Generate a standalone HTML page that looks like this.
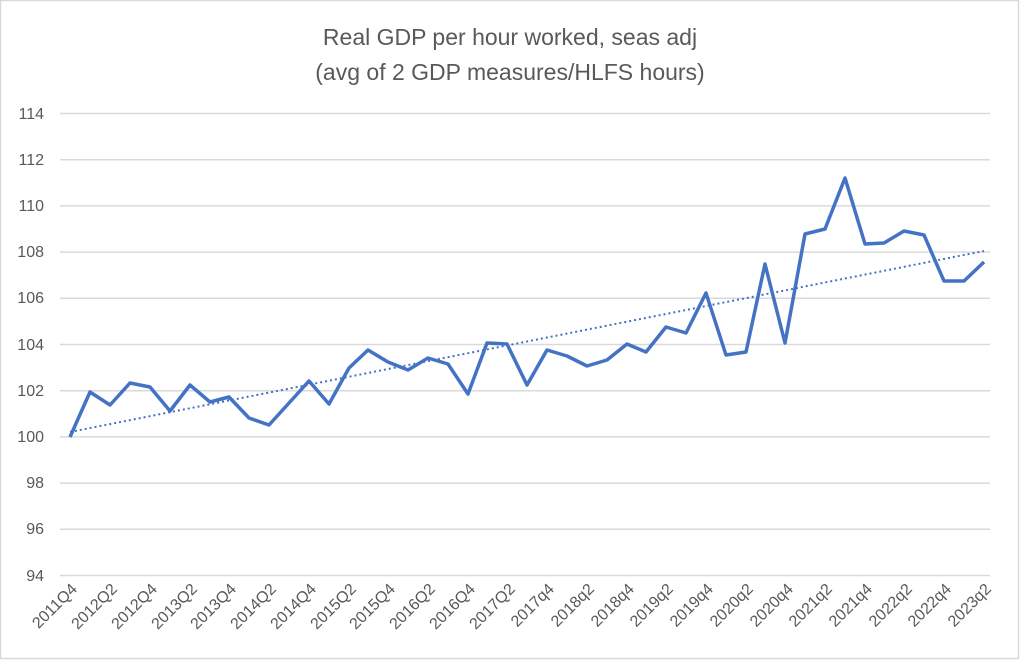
<!DOCTYPE html>
<html><head><meta charset="utf-8"><style>
html,body{margin:0;padding:0;background:#fff}
svg{display:block;font-family:"Liberation Sans",Calibri,sans-serif}
</style></head><body>
<svg width="1020" height="660" xmlns="http://www.w3.org/2000/svg">
<rect x="0.5" y="0.5" width="1018" height="658" fill="#fff" stroke="#d9d9d9" stroke-width="1.5"/>
<text x="510" y="45" text-anchor="middle" font-size="23" fill="#595959">Real GDP per hour worked, seas adj</text>
<text x="510" y="80" text-anchor="middle" font-size="23" fill="#595959">(avg of 2 GDP measures/HLFS hours)</text>
<g stroke="#d9d9d9" stroke-width="1.5">
<line x1="60" x2="990" y1="113.5" y2="113.5"/>
<line x1="60" x2="990" y1="159.7" y2="159.7"/>
<line x1="60" x2="990" y1="205.9" y2="205.9"/>
<line x1="60" x2="990" y1="252.1" y2="252.1"/>
<line x1="60" x2="990" y1="298.3" y2="298.3"/>
<line x1="60" x2="990" y1="344.5" y2="344.5"/>
<line x1="60" x2="990" y1="390.7" y2="390.7"/>
<line x1="60" x2="990" y1="436.9" y2="436.9"/>
<line x1="60" x2="990" y1="483.1" y2="483.1"/>
<line x1="60" x2="990" y1="529.3" y2="529.3"/>
<line x1="60" x2="990" y1="575.5" y2="575.5"/>
</g>
<g font-size="16" fill="#595959" text-anchor="end">
<text x="44" y="119">114</text><text x="44" y="165">112</text><text x="44" y="211">110</text>
<text x="44" y="257">108</text><text x="44" y="303">106</text><text x="44" y="350">104</text>
<text x="44" y="396">102</text><text x="44" y="442">100</text><text x="44" y="488">98</text>
<text x="44" y="534">96</text><text x="44" y="581">94</text>
</g>
<line x1="70" y1="432" x2="984" y2="251" stroke="#4472c4" stroke-width="2" stroke-dasharray="2,3"/>
<polyline fill="none" stroke="#4472c4" stroke-width="3.5" stroke-linejoin="round" points="70,437 90,392 110,405 130,383 150,387 170,411 190,385 210,402 229,397 249,418 269,425 289,403 309,381 329,404 349,368 368,350 388,362 408,370 428,358 448,364 468,394 487,343 507,344 527,385 547,350 567,356 587,366 607,360 627,344 646,352 666,327 686,333 706,293 726,355 746,352 765,264 785,343 805,234 825,229 845,178 865,244 884,243 904,231 924,235 944,281 964,281 984,262"/>
<g font-size="16" fill="#595959" text-anchor="end">
<text transform="translate(78,590) rotate(-45)">2011Q4</text>
<text transform="translate(118,590) rotate(-45)">2012Q2</text>
<text transform="translate(158,590) rotate(-45)">2012Q4</text>
<text transform="translate(198,590) rotate(-45)">2013Q2</text>
<text transform="translate(237,590) rotate(-45)">2013Q4</text>
<text transform="translate(277,590) rotate(-45)">2014Q2</text>
<text transform="translate(317,590) rotate(-45)">2014Q4</text>
<text transform="translate(357,590) rotate(-45)">2015Q2</text>
<text transform="translate(396,590) rotate(-45)">2015Q4</text>
<text transform="translate(436,590) rotate(-45)">2016Q2</text>
<text transform="translate(476,590) rotate(-45)">2016Q4</text>
<text transform="translate(516,590) rotate(-45)">2017Q2</text>
<text transform="translate(555,590) rotate(-45)">2017q4</text>
<text transform="translate(595,590) rotate(-45)">2018q2</text>
<text transform="translate(635,590) rotate(-45)">2018q4</text>
<text transform="translate(674,590) rotate(-45)">2019q2</text>
<text transform="translate(714,590) rotate(-45)">2019q4</text>
<text transform="translate(754,590) rotate(-45)">2020q2</text>
<text transform="translate(794,590) rotate(-45)">2020q4</text>
<text transform="translate(833,590) rotate(-45)">2021q2</text>
<text transform="translate(873,590) rotate(-45)">2021q4</text>
<text transform="translate(913,590) rotate(-45)">2022q2</text>
<text transform="translate(952,590) rotate(-45)">2022q4</text>
<text transform="translate(992,590) rotate(-45)">2023q2</text>
</g>
</svg>
</body></html>
